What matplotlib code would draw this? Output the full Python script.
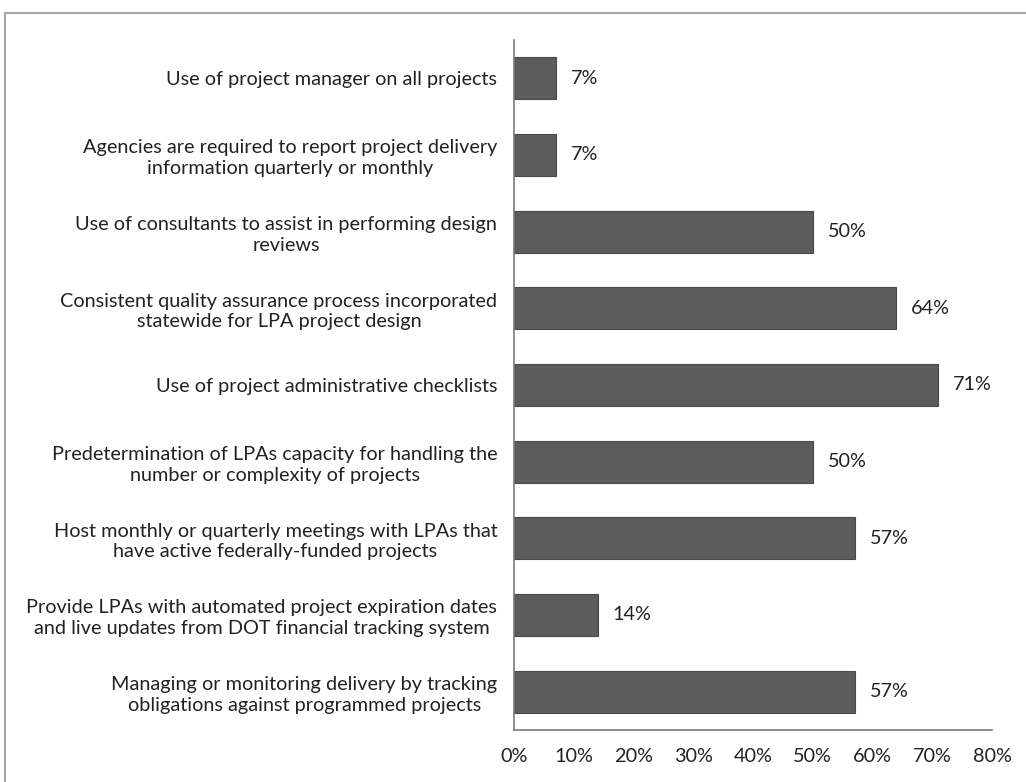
import matplotlib.pyplot as plt
from matplotlib.lines import Line2D

plt.rcParams['font.family'] = ['Lato', 'DejaVu Sans']

practices = [
    'Use of project manager on all projects',
    'Agencies are required to report project delivery\ninformation quarterly or monthly',
    'Use of consultants to assist in performing design\nreviews',
    'Consistent quality assurance process incorporated\nstatewide for LPA project design',
    'Use of project administrative checklists',
    'Predetermination of LPAs capacity for handling the\nnumber or complexity of projects',
    'Host monthly or quarterly meetings with LPAs that\nhave active federally-funded projects',
    'Provide LPAs with automated project expiration dates\nand live updates from DOT financial tracking system',
    'Managing or monitoring delivery by tracking\nobligations against programmed projects',
]
percent = [7, 7, 50, 64, 71, 50, 57, 14, 57]
ticks = [0, 10, 20, 30, 40, 50, 60, 70, 80]

fs = 14.3
fig = plt.figure(figsize=(10.26, 7.82), dpi=100)
ax = fig.add_axes([514 / 1026, 1 - 730 / 782, 478 / 1026, 690 / 782])

pos = list(range(len(practices)))
ax.barh(pos, percent, height=0.55, color='#5c5c5c', edgecolor='#484848', linewidth=0.8)
for y, v in zip(pos, percent):
    ax.text(v + 2.5, y, f'{v}%', va='center', ha='left', fontsize=fs, color='#222222')

ax.set_ylim(len(practices) - 0.5, -0.5)
ax.set_xlim(0, 80)
ax.set_yticks(pos)
ax.set_yticklabels(practices, fontsize=fs, color='#222222',
                   multialignment='center', linespacing=1.25)
ax.set_xticks(ticks)
ax.set_xticklabels([f'{t}%' for t in ticks], fontsize=fs, color='#222222')
ax.tick_params(axis='y', length=0, pad=12)
ax.tick_params(axis='x', length=0, pad=13)

for side in ['top', 'right']:
    ax.spines[side].set_visible(False)
for side in ['left', 'bottom']:
    ax.spines[side].set_color('#7a7a7a')
    ax.spines[side].set_linewidth(1.2)

# light outer frame along the top and left edges
fig.add_artist(Line2D([5 / 1026, 1.0], [1 - 13 / 782] * 2, color='#a8a8a8', lw=1.5))
fig.add_artist(Line2D([5 / 1026] * 2, [0.0, 1 - 13 / 782], color='#a8a8a8', lw=1.5))

fig.savefig('out.png', dpi=100, facecolor='white')
